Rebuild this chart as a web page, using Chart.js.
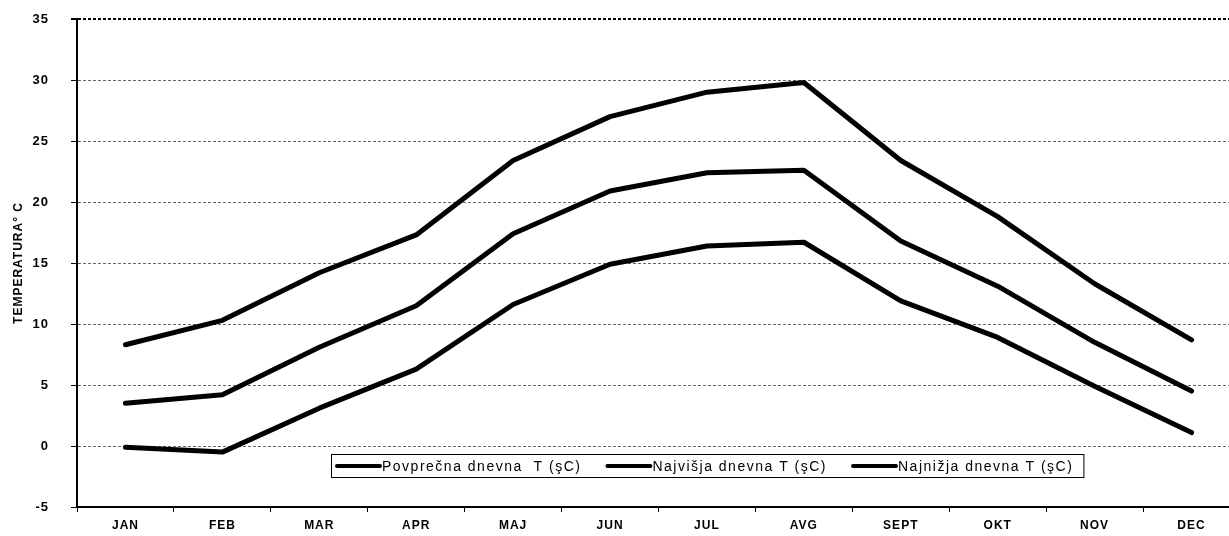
<!DOCTYPE html>
<html>
<head>
<meta charset="utf-8">
<script src="https://cdn.jsdelivr.net/npm/chart.js@4/dist/chart.umd.min.js"></script>
<style>
  html, body { margin: 0; padding: 0; background: #fff; overflow: hidden; }
  #wrap { width: 1229px; height: 536px; overflow: hidden; }
</style>
</head>
<body>
<div id="wrap"><canvas id="tempChart" width="1240" height="536"></canvas></div>
<script>
const months = ['JAN', 'FEB', 'MAR', 'APR', 'MAJ', 'JUN', 'JUL', 'AVG', 'SEPT', 'OKT', 'NOV', 'DEC'];
const avgTemp = [3.5, 4.2, 8.1, 11.5, 17.4, 20.9, 22.4, 22.6, 16.8, 13.1, 8.5, 4.5];
const maxTemp = [8.3, 10.3, 14.2, 17.3, 23.4, 27.0, 29.0, 29.8, 23.4, 18.8, 13.3, 8.7];
const minTemp = [-0.1, -0.5, 3.1, 6.3, 11.6, 14.9, 16.4, 16.7, 11.9, 8.9, 4.9, 1.1];
const seriesLabels = ['Povprečna dnevna  T (şC)', 'Najvišja dnevna T (şC)', 'Najnižja dnevna T (şC)'];
const yTicks = [-5, 0, 5, 10, 15, 20, 25, 30, 35];

const FONT = '"Liberation Sans", Arial, sans-serif';

// wider letter spacing like the scanned original
const spacing = {
    id: 'spacing',
    beforeDraw(chart) { chart.ctx.letterSpacing = '1px'; }
};

// legend box drawn inside the plot, near the bottom
const boxLegend = {
    id: 'boxLegend',
    afterDatasetsDraw(chart) {
        const ctx = chart.ctx;
        const area = chart.chartArea;
        const left = area.left + 254;
        const top = area.bottom - 53;
        const h = 23;
        ctx.save();
        ctx.font = '14px ' + FONT;
        ctx.letterSpacing = '1.5px';
        const widths = seriesLabels.map(t => ctx.measureText(t).width);
        const sample = 43;
        const gap = 26;
        let total = 6 + 10;
        widths.forEach((w, i) => { total += sample + 2 + w + (i < 2 ? gap : 0); });
        ctx.fillStyle = '#fff';
        ctx.fillRect(left, top, total, h);
        ctx.strokeStyle = '#000';
        ctx.lineWidth = 1;
        ctx.strokeRect(left + 0.5, top + 0.5, total, h);
        let x = left + 6;
        const cy = top + h / 2 + 0.5;
        chart.data.datasets.forEach((ds, i) => {
            ctx.beginPath();
            ctx.lineWidth = 4;
            ctx.lineCap = 'round';
            ctx.strokeStyle = '#000';
            ctx.moveTo(x, cy);
            ctx.lineTo(x + sample, cy);
            ctx.stroke();
            ctx.fillStyle = '#000';
            ctx.textBaseline = 'middle';
            ctx.fillText(ds.label, x + sample + 2, cy + 1);
            x += sample + 2 + widths[i] + gap;
        });
        ctx.restore();
    }
};

const ctx = document.getElementById('tempChart').getContext('2d');
const lineStyle = {
    borderColor: '#000',
    backgroundColor: '#000',
    borderWidth: 5,
    pointRadius: 0,
    tension: 0,
    borderCapStyle: 'round',
    borderJoinStyle: 'round',
    fill: false
};

new Chart(ctx, {
    type: 'line',
    data: {
        labels: months,
        datasets: [
            Object.assign({ label: seriesLabels[0], data: avgTemp }, lineStyle),
            Object.assign({ label: seriesLabels[1], data: maxTemp }, lineStyle),
            Object.assign({ label: seriesLabels[2], data: minTemp }, lineStyle)
        ]
    },
    options: {
        responsive: false,
        animation: false,
        layout: { padding: { top: 19, right: 0, left: 0, bottom: 0 } },
        plugins: {
            legend: { display: false },
            tooltip: { enabled: false }
        },
        scales: {
            x: {
                offset: true,
                grid: {
                    offset: true,
                    drawOnChartArea: false,
                    tickLength: 5,
                    tickColor: '#000',
                    tickWidth: 1
                },
                border: { color: '#000', width: 2 },
                ticks: {
                    color: '#000',
                    font: { family: FONT, size: 12, weight: 'bold' },
                    padding: 6,
                    maxRotation: 0,
                    autoSkip: false
                },
                afterFit(scale) { scale.height = 29; }
            },
            y: {
                min: -5,
                max: 35,
                afterBuildTicks(scale) { scale.ticks = yTicks.map(v => ({ value: v })); },
                grid: {
                    color: c => c.tick && c.tick.value === 35 ? '#000' : '#666',
                    lineWidth: c => c.tick && c.tick.value === 35 ? 2 : 1,
                    tickLength: 6,
                    tickColor: '#000'
                },
                border: { color: '#000', width: 2, dash: [3, 2] },
                ticks: {
                    color: '#000',
                    font: { family: FONT, size: 13, weight: 'bold' },
                    padding: 22
                },
                title: {
                    display: true,
                    text: 'TEMPERATURA° C',
                    color: '#000',
                    font: { family: FONT, size: 12, weight: 'bold' },
                    padding: { top: 11, bottom: 0 }
                },
                afterFit(scale) {
                    scale.width = 77;
                    scale.paddingTop = 0;
                    scale.paddingBottom = 0;
                }
            }
        }
    },
    plugins: [spacing, boxLegend]
});
</script>
</body>
</html>
